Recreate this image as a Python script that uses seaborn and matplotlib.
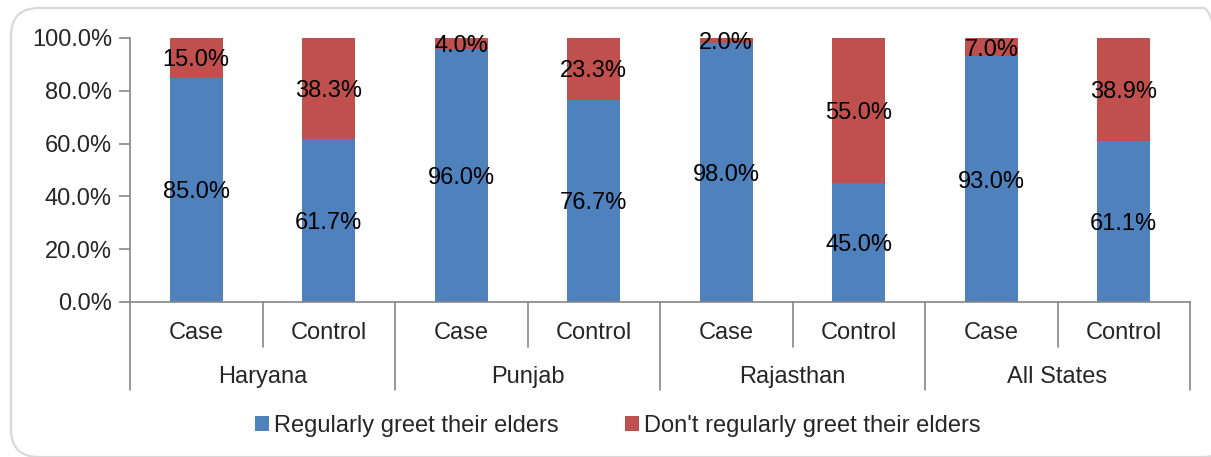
import numpy as np
import pandas as pd
import matplotlib
matplotlib.use("Agg")
import matplotlib.pyplot as plt
import seaborn as sns
from matplotlib.patches import FancyBboxPatch, Patch

states = ["Haryana", "Punjab", "Rajasthan", "All States"]
groups = ["Case", "Control"]
greet = [85.0, 61.7, 96.0, 76.7, 98.0, 45.0, 93.0, 61.1]
no_greet = [15.0, 38.3, 4.0, 23.3, 2.0, 55.0, 7.0, 38.9]
series_names = ["Regularly greet their elders", "Don't regularly greet their elders"]

BLUE = "#4F81BD"
RED = "#C0504D"
AXIS = "#868686"

sns.set_theme(style="white")
plt.rcParams["font.family"] = ["Liberation Sans", "DejaVu Sans"]

slots = [f"{s}|{g}" for s in states for g in groups]
df = pd.DataFrame({
    "slot": slots,
    "greet": greet,
    "no_greet": no_greet,
})
df["total"] = df["greet"] + df["no_greet"]

fig = plt.figure(figsize=(12.11, 4.57), dpi=100)
ax = fig.add_axes([130 / 1211, 1 - 302 / 457, 1060 / 1211, 264 / 457])

# red = full stack, blue drawn on top of it
sns.barplot(data=df, x="slot", y="total", order=slots, color=RED, width=0.4,
            saturation=1, ax=ax, edgecolor="none")
sns.barplot(data=df, x="slot", y="greet", order=slots, color=BLUE, width=0.4,
            saturation=1, ax=ax, edgecolor="none")

fs = 17
for i, (g, n) in enumerate(zip(greet, no_greet)):
    ax.text(i, g / 2, f"{g:.1f}%", ha="center", va="center_baseline", fontsize=fs, color="black")
    ax.text(i, g + n / 2, f"{n:.1f}%", ha="center", va="center_baseline", fontsize=fs, color="black")

ax.set_ylim(0, 100)
ax.set_xlim(-0.5, len(slots) - 0.5)
ax.set_yticks(np.arange(0, 101, 20))
ax.set_yticklabels([f"{v:.1f}%" for v in np.arange(0, 101, 20)], fontsize=fs)
ax.tick_params(axis="y", direction="out", length=8, width=1.2, color=AXIS, pad=5, left=True)
ax.set_xticks([])
ax.set_xlabel("")
ax.set_ylabel("")
for side in ["top", "right"]:
    ax.spines[side].set_visible(False)
for side in ["left", "bottom"]:
    ax.spines[side].set_color(AXIS)
    ax.spines[side].set_linewidth(1.2)

# two-level category axis
tr = ax.get_xaxis_transform()
short_y = -45 / 264
long_y = -88 / 264
for k in range(len(slots) + 1):
    x = k - 0.5
    y_end = long_y if k % 2 == 0 else short_y
    ax.plot([x, x], [0, y_end], color=AXIS, lw=1.2, transform=tr, clip_on=False)
for i, s in enumerate(slots):
    ax.text(i, -31 / 264, s.split("|")[1], ha="center", va="center",
            fontsize=fs, transform=tr)
for j, st in enumerate(states):
    ax.text(2 * j + 0.5, -75 / 264, st, ha="center", va="center",
            fontsize=fs, transform=tr)

handles = [Patch(facecolor=BLUE, edgecolor="none"), Patch(facecolor=RED, edgecolor="none")]
fig.legend(handles, series_names, loc="center", bbox_to_anchor=(0.51, 1 - 426 / 457),
           ncol=2, frameon=False, fontsize=fs, handlelength=0.6, handleheight=0.6,
           handletextpad=0.2, columnspacing=2.8)

# rounded chart-area border, running off the right edge
border = FancyBboxPatch((0.11, 0.0), 12.2, 4.49,
                        boxstyle="round,pad=0,rounding_size=0.28",
                        transform=fig.dpi_scale_trans, facecolor="none",
                        edgecolor="#D9D9D9", lw=1.6)
fig.patches.append(border)

fig.savefig("out.png", dpi=100)
